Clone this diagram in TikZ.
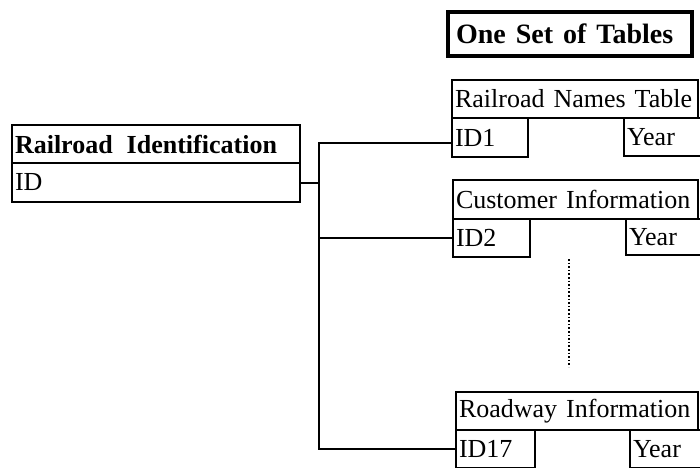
\documentclass[tikz,border=0pt]{standalone}
\usepackage{fontspec}
\setmainfont{Liberation Serif}
% wider word spacing for the table labels, no hyphenation
\newcommand\cellsp{\spaceskip=9pt\relax\hyphenpenalty=10000\relax}
\newcommand\keysp{\spaceskip=14pt\relax\hyphenpenalty=10000\relax}
\newcommand\headsp{\spaceskip=10pt\relax\hyphenpenalty=10000\relax}
\begin{document}
\begin{tikzpicture}[x=1pt,y=-1pt,
  cell/.style={draw, line width=1.6pt, anchor=north west, outer sep=0pt,
    inner xsep=3pt, inner ysep=0pt, align=left,
    font=\fontsize{26}{30}\selectfont, execute at begin node=\cellsp},
  boldcell/.style={cell,
    font=\fontsize{26}{30}\bfseries\selectfont, execute at begin node=\keysp},
  title/.style={draw, line width=3.5pt, anchor=north west, outer sep=0pt,
    inner xsep=8pt, inner ysep=0pt, align=left,
    font=\fontsize{28}{32}\bfseries\selectfont, execute at begin node=\headsp},
  wire/.style={line width=2pt},
  gap/.style={line width=1.6pt, dotted}]
\useasboundingbox (0,0) rectangle (700,467);

% heading
\node[title, text width=228pt, minimum height=44pt] (head) at (448,12) {One Set of Tables};

% master table
\node[boldcell, text width=282pt, minimum height=38pt] (ridh) at (12,125) {Railroad Identification};
\node[cell, text width=282pt, minimum height=39pt] (rid) at (ridh.south west) {ID};

% railroad names table
\node[cell, text width=240pt, minimum height=38pt] (names) at (452,80) {Railroad Names Table};
\node[cell, text width=70pt, minimum height=39pt] (id1) at (names.south west) {ID1};
\node[cell, text width=90pt, minimum height=38pt] (yr1) at (624,118) {Year};

% customer information table
\node[cell, text width=239pt, minimum height=39pt] (cust) at (453,180) {Customer Information};
\node[cell, text width=71pt, minimum height=38pt] (id2) at (cust.south west) {ID2};
\node[cell, text width=88pt, minimum height=36pt] (yr2) at (626,219) {Year};

% roadway information table
\node[cell, text width=236pt, minimum height=38pt] (road) at (456,392) {Roadway Information};
\node[cell, text width=73pt, minimum height=38pt] (id17) at (road.south west) {ID17};
\node[cell, text width=84pt, minimum height=38pt] (yr17) at (630,430) {Year};

% tables omitted between ID2 and ID17
\coordinate (dtop) at (569,259);
\coordinate (dbot) at (569,367);
\draw[gap] (dtop) -- (dbot);

% one-to-many links from the master ID
\coordinate (tk) at (319,0);
\coordinate (e1) at ([yshift=-5pt]id1.west);
\draw[wire] (rid.east) -- (rid.east -| tk);
\draw[wire] (e1) -- (e1 -| tk) -- (id17.west -| tk) -- (id17.west);
\draw[wire] (id2.west) -- (id2.west -| tk);
\end{tikzpicture}
\end{document}
